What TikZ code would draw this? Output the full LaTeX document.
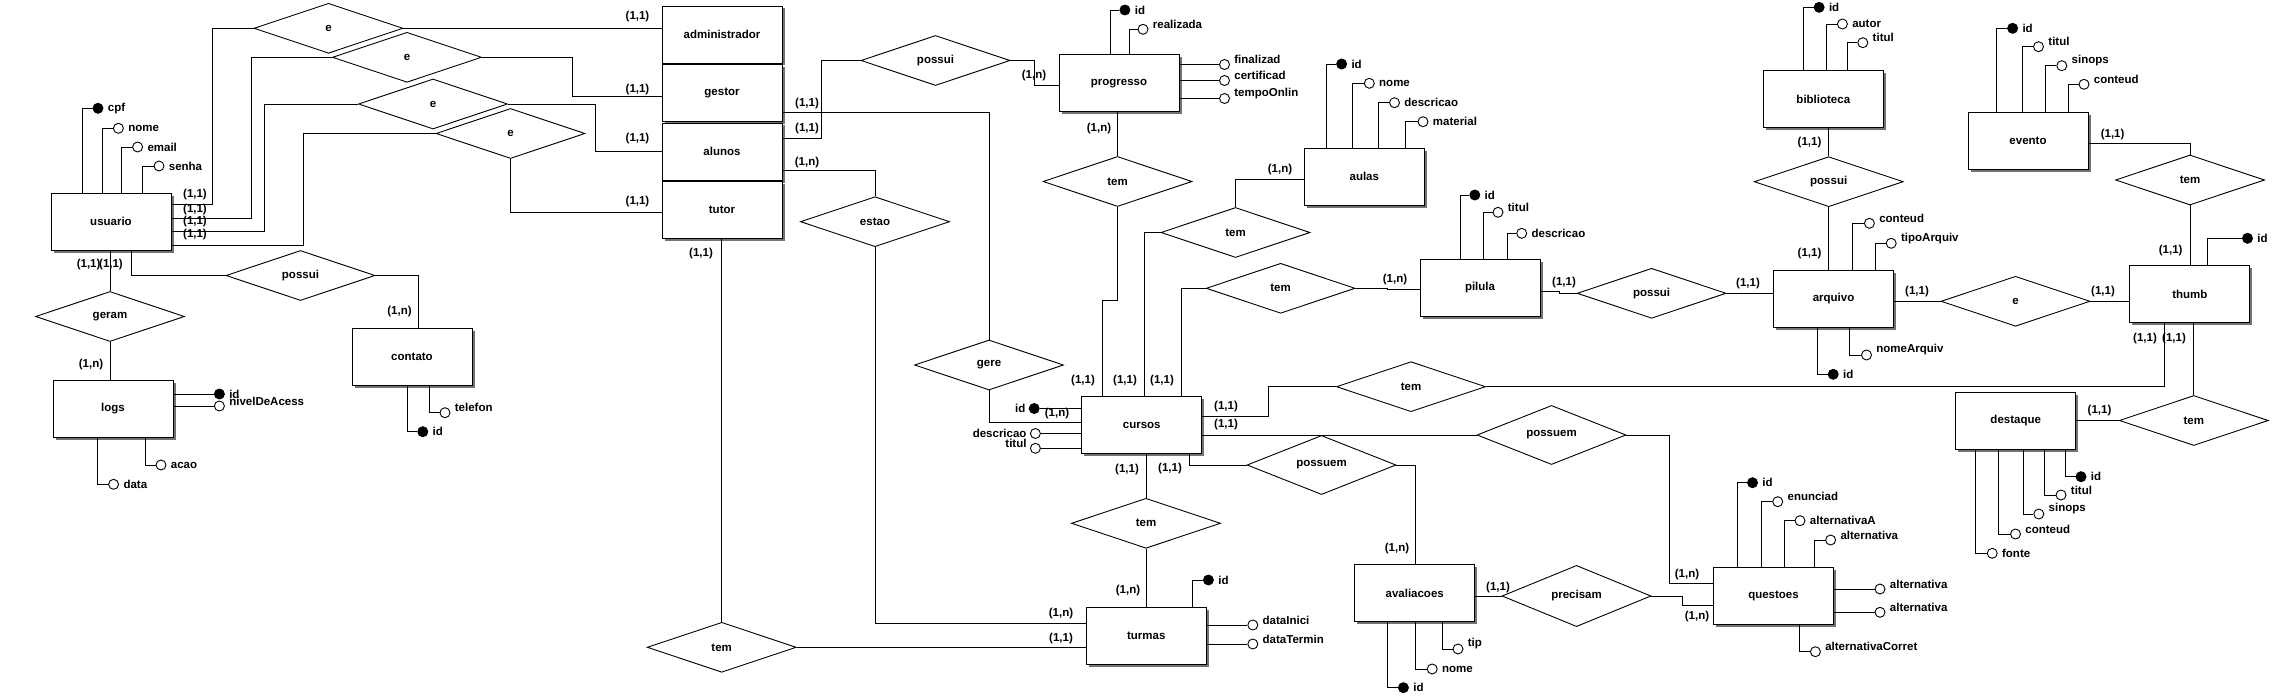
\documentclass[tikz,border=0pt]{standalone}
\usepackage{fontspec}
\setmainfont{Liberation Sans}
\usetikzlibrary{shapes.geometric,shadows}
\def\cuu{(1,1)}
\def\cun{(1,n)}
\tikzset{
	ent/.style={draw,fill=white,minimum width=120pt,minimum height=57pt,inner sep=0pt,
		drop shadow={shadow xshift=2.5pt,shadow yshift=-2.5pt,fill=black!55,opacity=1}},
	rel/.style={diamond,draw,minimum width=149pt,minimum height=50pt,inner sep=0pt},
	att/.style={circle,draw,fill=white,minimum size=10pt,inner sep=0pt},
	attkey/.style={att,fill=black},
	lbl/.style={anchor=west,inner sep=0pt,xshift=4pt},
	lbltwo/.style={lbl,yshift=5pt},
	card/.style={inner sep=0pt}
}
\begin{document}
\begin{tikzpicture}[x=1pt,y=-1pt,line width=0.9pt,every node/.append style={font=\fontsize{11.5}{13}\selectfont\bfseries}]
	\useasboundingbox (0,0) rectangle (2278,698);
	\fill[white] (0,0) rectangle (2278,698);
	% entidades
	\node[ent] (usuario) at (111,221.5) {usuario};
	\node[ent] (administrador) at (722,34.5) {administrador};
	\node[ent] (gestor) at (722,93) {gestor};
	\node[ent] (alunos) at (722,151.5) {alunos};
	\node[ent] (tutor) at (722,210) {tutor};
	\node[ent] (progresso) at (1119,83.3) {progresso};
	\node[ent] (aulas) at (1364.3,176.7) {aulas};
	\node[ent] (pilula) at (1480,287.7) {pilula};
	\node[ent] (biblioteca) at (1823.3,99.2) {biblioteca};
	\node[ent] (evento) at (2028,141) {evento};
	\node[ent] (arquivo) at (1833.5,298.7) {arquivo};
	\node[ent] (thumb) at (2189.8,294.3) {thumb};
	\node[ent] (destaque) at (2015.7,420.8) {destaque};
	\node[ent] (cursos) at (1141.7,425.3) {cursos};
	\node[ent] (turmas) at (1146.3,635.8) {turmas};
	\node[ent] (avaliacoes) at (1414.7,593.2) {avaliacoes};
	\node[ent] (questoes) at (1773.5,595.8) {questoes};
	\node[ent] (logs) at (113,408.7) {logs};
	\node[ent] (contato) at (412,356.7) {contato};
	% relacionamentos
	\node[rel] (rAdm) at (328.5,28.3) {e};
	\node[rel] (rGes) at (407,57.3) {e};
	\node[rel] (rAlu) at (433,104) {e};
	\node[rel] (rTut) at (510.5,133.5) {e};
	\node[rel] (rProg) at (935.5,60.5) {possui};
	\node[rel] (rEstao) at (875,221.7) {estao};
	\node[rel] (rTemProg) at (1117.5,181.5) {tem};
	\node[rel] (rTemAulas) at (1235.5,232.5) {tem};
	\node[rel] (rTemPil) at (1280.6,288.3) {tem};
	\node[rel] (rPossuiArq) at (1651.6,293.3) {possui};
	\node[rel] (rPossuiBib) at (1828.7,181.7) {possui};
	\node[rel] (rTemEv) at (2190,180) {tem};
	\node[rel] (rEThumb) at (2015.5,301.3) {e};
	\node[rel] (rTemThumb) at (1411,386.7) {tem};
	\node[rel] (rTemDest) at (2193.8,420.5) {tem};
	\node[rel] (rPossuemQ) at (1551.5,435) {possuem};
	\node[rel] (rPossuemA) at (1321.5,465) {possuem};
	\node[rel] (rGere) at (989,365) {gere};
	\node[rel] (rTemTurmas) at (1146,523.3) {tem};
	\node[rel] (rTemTutor) at (721.7,647.3) {tem};
	\node[rel] (rPrecisam) at (1576.5,596) {precisam};
	\node[rel] (rGeram) at (110,316.5) {geram};
	\node[rel] (rPossuiCont) at (300.5,275.5) {possui};
	% ligacoes
	\draw (usuario.east |- 0,204) -- (212.3,204) |- (rAdm.west);
	\draw (usuario.east |- 0,218.3) -- (251.5,218.3) |- (rGes.west);
	\draw (usuario.east |- 0,231) -- (264.5,231) |- (rAlu.west);
	\draw (usuario.east |- 0,245) -- (303.3,245) |- (rTut.west);
	\draw (rAdm.east) -- (rAdm.east -| administrador.west);
	\draw (rGes.east) -| (572.6,96.7) -- (gestor.west |- 0,96.7);
	\draw (rAlu.east) -| (595,151) -- (alunos.west |- 0,151);
	\draw (rTut.south) |- (tutor.west |- 0,212);
	\draw (alunos.east |- 0,138.3) -- (821.5,138.3) |- (rProg.west);
	\draw (rProg.east) -| (1034,85) -- (progresso.west |- 0,85);
	\draw (gestor.east |- 0,112.3) -| (rGere.north);
	\draw (alunos.east |- 0,170.7) -| (rEstao.north);
	\draw (rTemProg.north |- progresso.south) -- (rTemProg.north);
	\draw (rTemProg.south) -- (1117.5,300) -| (1102.7,0 |- cursos.north);
	\draw (aulas.west |- 0,179.3) -| (rTemAulas.north);
	\draw (rTemAulas.west) -| (1144.5,0 |- cursos.north);
	\draw (rTemPil.west) -| (1181.8,0 |- cursos.north);
	\draw (rTemPil.east) -| (1387,289.3) -- (pilula.west |- 0,289.3);
	\draw (pilula.east |- 0,291.7) -| (1559,293.3) -- (rPossuiArq.west);
	\draw (rPossuiArq.east) -- (rPossuiArq.east -| arquivo.west);
	\draw (rPossuiBib.north |- biblioteca.south) -- (rPossuiBib.north);
	\draw (rPossuiBib.south) -- (rPossuiBib.south |- arquivo.north);
	\draw (evento.east |- 0,143.3) -| (rTemEv.north);
	\draw (rTemEv.south) -- (rTemEv.south |- thumb.north);
	\draw (rEThumb.west -| arquivo.east) -- (rEThumb.west);
	\draw (rEThumb.east) -- (rEThumb.east -| thumb.west);
	\draw (cursos.east |- 0,416) -| (1268.4,386.7) -- (rTemThumb.west);
	\draw (rTemThumb.east) -| (2164.2,0 |- thumb.south);
	\draw (rTemDest.north |- thumb.south) -- (rTemDest.north);
	\draw (rTemDest.west) -- (rTemDest.west -| destaque.east);
	\draw (cursos.east |- rPossuemQ.west) -- (rPossuemQ.west);
	\draw (rPossuemQ.east) -| (1669.7,583.3) -- (questoes.west |- 0,583.3);
	\draw (1189.2,0 |- cursos.south) |- (rPossuemA.west);
	\draw (rPossuemA.east) -| (1415.6,0 |- avaliacoes.north);
	\draw (avaliacoes.east |- rPrecisam.west) -- (rPrecisam.west);
	\draw (rPrecisam.east) -| (1682.6,605) -- (questoes.west |- 0,605);
	\draw (rTemTurmas.north |- cursos.south) -- (rTemTurmas.north);
	\draw (rTemTurmas.south) -- (rTemTurmas.south |- turmas.north);
	\draw (rEstao.south) |- (turmas.west |- 0,623.3);
	\draw (rTemTutor.north |- tutor.south) -- (rTemTutor.north);
	\draw (rTemTutor.east) -- (rTemTutor.east -| turmas.west);
	\draw (rGere.south) |- (cursos.west |- 0,422.3);
	\draw (rGeram.north |- usuario.south) -- (rGeram.north);
	\draw (rGeram.south) -- (rGeram.south |- logs.north);
	\draw (131.3,0 |- usuario.south) |- (rPossuiCont.west);
	\draw (rPossuiCont.east) -| (418.7,0 |- contato.north);
	% cardinalidades
	\foreach \cx/\cy/\tx [count=\i] in {
		195/194.3/\cuu, 195/209.3/\cuu, 195/221.7/\cuu, 195/235/\cuu,
		637.5/16.7/\cuu, 637.5/90/\cuu, 637.5/138.3/\cuu, 637.5/201.7/\cuu,
		807/103.3/\cuu, 807/128.3/\cuu, 807/162.3/\cun,
		1034/76/\cun, 1099/128.3/\cun,
		1083/381/\cuu, 1125/381/\cuu, 1162/381/\cuu,
		1280/170/\cun, 1395/280/\cun, 1564/282.7/\cuu, 1748/283.3/\cuu,
		1809.5/142.3/\cuu, 1809.5/254/\cuu, 2112.6/134.3/\cuu, 2170.7/250.7/\cuu,
		1917/291.7/\cuu, 2103/291.7/\cuu, 2145/338.3/\cuu, 2174/338.3/\cuu,
		2099.5/411/\cuu, 1226/406.7/\cuu, 1226/425/\cuu, 1687/575/\cun,
		1170/468.3/\cuu, 1397/548.3/\cun, 1127/469.3/\cuu, 1128/591/\cun,
		1061/614/\cun, 1061/638.3/\cuu, 701/253.3/\cuu, 1057/413.3/\cun,
		1498/587.7/\cuu, 1697/616.7/\cun, 88.6/265/\cuu, 111/265/\cuu,
		91/364.3/\cun, 399.5/311.7/\cun}
		\node[card] (card\i) at (\cx,\cy) {\tx};
	% atributos acima / abaixo
	\foreach \nm/\en/\sd/\lx/\cx/\cy/\st/\ls/\tx in {
		uCpf/usuario/north/82.5/98/108.3/attkey/lbl/cpf,
		uNome/usuario/north/102.5/118.4/128.3/att/lbl/nome,
		uEmail/usuario/north/121.3/137.6/147/att/lbl/email,
		uSenha/usuario/north/142.4/159/166/att/lbl/senha,
		pId/progresso/north/1110/1124.9/10/attkey/lbl/id,
		pReal/progresso/north/1129.3/1143/29.3/att/lbltwo/realizada,
		aId/aulas/north/1326.8/1341.6/64/attkey/lbl/id,
		aNome/aulas/north/1352.7/1369.3/83.3/att/lbl/nome,
		aDesc/aulas/north/1378.6/1394.5/102.7/att/lbl/descricao,
		aMat/aulas/north/1405.6/1423/121.7/att/lbl/material,
		plId/pilula/north/1460/1474.8/195/attkey/lbl/id,
		plTit/pilula/north/1483/1498/212.3/att/lbltwo/titul,
		plDesc/pilula/north/1507.3/1521.7/233.3/att/lbl/descricao,
		bId/biblioteca/north/1803.6/1819.1/7.3/attkey/lbl/id,
		bAutor/biblioteca/north/1826/1842.4/24/att/lbl/autor,
		bTit/biblioteca/north/1847.2/1862.8/42.7/att/lbltwo/titul,
		evId/evento/north/1996.7/2012.6/28.3/attkey/lbl/id,
		evTit/evento/north/2022.6/2038.5/46.7/att/lbltwo/titul,
		evSin/evento/north/2045.9/2061.8/65.7/att/lbltwo/sinops,
		evCont/evento/north/2068/2084/84.3/att/lbltwo/conteud,
		arCont/arquivo/north/1852.8/1869.4/223.3/att/lbltwo/conteud,
		arTipo/arquivo/north/1875/1891.2/243.3/att/lbltwo/tipoArquiv,
		arId/arquivo/south/1817.6/1833.2/374.3/attkey/lbl/id,
		arNome/arquivo/south/1849.8/1866.5/355/att/lbltwo/nomeArquiv,
		thId/thumb/north/2207.5/2247.5/238.3/attkey/lbl/id,
		dId/destaque/south/2065.1/2081/476.7/attkey/lbl/id,
		dTit/destaque/south/2044.8/2061/495/att/lbltwo/titul,
		dSin/destaque/south/2023/2038.8/514/att/lbltwo/sinops,
		dCont/destaque/south/1998.9/2015.5/534/att/lbltwo/conteud,
		dFonte/destaque/south/1975.6/1992.2/553.3/att/lbl/fonte,
		qId/questoes/north/1737/1752.5/482.7/attkey/lbl/id,
		qEnun/questoes/north/1761/1777.7/501.7/att/lbltwo/enunciad,
		qAltA/questoes/north/1784/1800/520.7/att/lbl/alternativaA,
		qAltB/questoes/north/1814.7/1830.6/540/att/lbltwo/alternativa,
		qCor/questoes/south/1799/1815.4/651.7/att/lbltwo/alternativaCorret,
		avId/avaliacoes/south/1387.8/1403.4/687.7/attkey/lbl/id,
		avNome/avaliacoes/south/1415.6/1432.2/669/att/lbl/nome,
		avTipo/avaliacoes/south/1442.6/1458/649/att/lbltwo/tip,
		tId/turmas/north/1192.5/1208.4/580/attkey/lbl/id,
		lAcao/logs/south/145/161/465/att/lbl/acao,
		lData/logs/south/97.3/113.6/484.3/att/lbl/data,
		cTel/contato/south/429/445/412.7/att/lbltwo/telefon,
		cId/contato/south/407.6/422.8/431.7/attkey/lbl/id}{
		\node[\st] (\nm) at (\cx,\cy) {};
		\node[\ls] (\nm-t) at (\nm.east) {\tx};
		\draw (\en.\sd -| \lx,0) |- (\nm.west);
	}
	% atributos a direita
	\foreach \nm/\en/\cx/\cy/\st/\ls/\tx in {
		pFin/progresso/1224.5/64.5/att/lbltwo/finalizad,
		pCert/progresso/1224.5/80.5/att/lbltwo/certificad,
		pTempo/progresso/1224.5/98.5/att/lbltwo/tempoOnlin,
		qAltC/questoes/1880/589/att/lbltwo/alternativa,
		qAltD/questoes/1880/612.3/att/lbltwo/alternativa,
		tIni/turmas/1252.8/625/att/lbltwo/dataInici,
		tTer/turmas/1252.8/644/att/lbltwo/dataTermin,
		lId/logs/219.4/394/attkey/lbl/id,
		lNivel/logs/219.4/406/att/lbltwo/nivelDeAcess}{
		\node[\st] (\nm) at (\cx,\cy) {};
		\node[\ls] (\nm-t) at (\nm.east) {\tx};
		\draw (\en.east |- \nm.west) -- (\nm.west);
	}
	% atributos a esquerda de cursos
	\node[attkey] (cuId) at (1034.2,408.5) {};
	\node[att] (cuDesc) at (1035.4,433.5) {};
	\node[att] (cuTit) at (1035.4,448.3) {};
	\node[anchor=east,inner sep=0pt,xshift=-3pt] (cuId-t) at (cuId.west) {id};
	\node[anchor=east,inner sep=0pt,xshift=-3pt] (cuDesc-t) at (cuDesc.west) {descricao};
	\node[anchor=east,inner sep=0pt,xshift=-3pt,yshift=5pt] (cuTit-t) at (cuTit.west) {titul};
	\draw (cuId.east) -- (cuId.east -| cursos.west);
	\draw (cuDesc.east) -- (cuDesc.east -| cursos.west);
	\draw (cuTit.east) -- (cuTit.east -| cursos.west);
\end{tikzpicture}
\end{document}
